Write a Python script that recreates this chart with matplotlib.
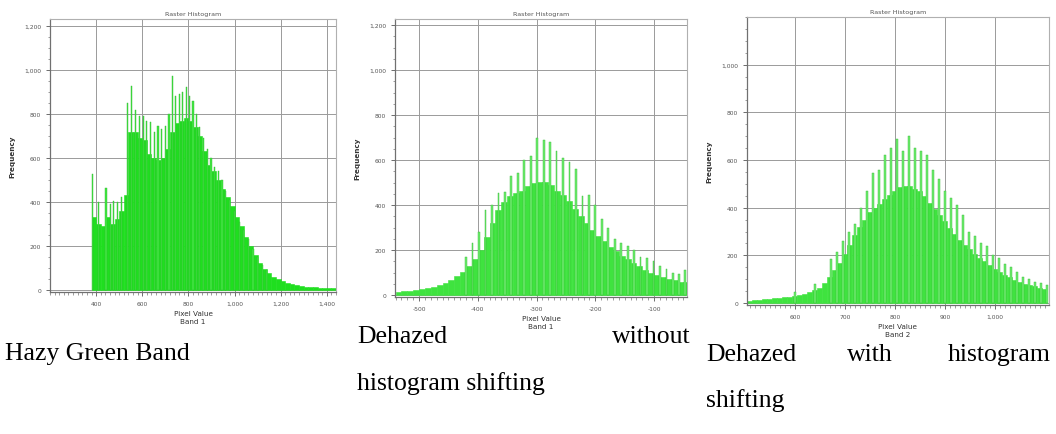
import matplotlib
matplotlib.use("Agg")
import matplotlib.pyplot as plt
from matplotlib.ticker import FuncFormatter, MultipleLocator, FixedLocator
import numpy as np

W, H = 1056, 435

# ---------------- data ----------------
# Panel 1: Hazy green band (base histogram, bins of 20 starting at 380)
hazy_start, hazy_width = 380, 20
hazy_base = [330, 300, 290, 330, 300, 320, 360, 430, 720, 720,
             690, 680, 620, 600, 590, 600, 640, 720, 760, 770,
             780, 770, 740, 700, 630, 570, 540, 500, 460, 420,
             380, 330, 290, 240, 200, 160, 120, 95, 75, 60,
             48, 40, 32, 26, 20, 17, 15, 13, 11, 10,
             9, 8, 7]
hazy_spike_x = [384, 412, 443, 462, 475, 492, 510, 536, 552, 570, 588, 604,
                620, 636, 652, 668, 684, 700, 716, 730, 745, 760, 775, 790,
                805, 820, 835, 850, 866, 882, 898, 915, 930, 946, 962, 980,
                1000, 1020, 1040, 1060, 1080, 1100, 1120, 1140]
hazy_spike_y = [527, 400, 464, 390, 405, 400, 420, 850, 927, 820, 790, 791,
                770, 764, 720, 745, 730, 745, 800, 973, 882, 890, 900, 923,
                880, 860, 800, 740, 690, 640, 600, 560, 540, 500, 450, 410,
                360, 310, 270, 230, 185, 150, 115, 90]

# Panel 2: Dehazed without histogram shifting (bins of 10 starting at -540)
noshift_start, noshift_width = -540, 10
noshift_base = [15, 18, 20, 24, 28, 33, 38, 45, 55, 68,
                85, 105, 130, 160, 200, 260, 320, 380, 415, 440,
                455, 465, 485, 500, 505, 505, 490, 465, 445, 420,
                385, 350, 320, 290, 265, 240, 215, 195, 175, 160,
                145, 128, 112, 100, 88, 80, 72, 66, 60, 58]
noshift_spike_x = [-420, -409, -398, -387, -376, -365, -354, -343, -332, -321,
                   -310, -299, -288, -277, -266, -255, -244, -233, -222, -211,
                   -200, -189, -178, -167, -156, -145, -134, -123, -112, -101,
                   -90, -79, -68, -57, -47]
noshift_spike_y = [170, 230, 280, 380, 400, 455, 460, 530, 545, 600,
                   620, 700, 690, 680, 640, 610, 590, 560, 440, 445,
                   400, 340, 300, 250, 230, 220, 200, 170, 165, 150,
                   130, 115, 100, 95, 110]

# Panel 3: Dehazed with histogram shifting (bins of 10 starting at 504)
shift_start, shift_width = 504, 10
shift_base = [10, 12, 14, 16, 18, 20, 22, 24, 27, 30,
              35, 40, 46, 55, 65, 85, 110, 140, 170, 205,
              245, 285, 320, 350, 380, 400, 415, 435, 455, 470,
              485, 490, 490, 480, 470, 450, 420, 395, 370, 345,
              315, 290, 265, 245, 225, 205, 190, 175, 160, 145,
              130, 118, 108, 98, 90, 82, 76, 70, 65, 60]
shift_spike_x = [600, 640, 672, 684, 696, 708, 720, 732, 744, 756, 768, 780,
                 792, 804, 816, 828, 840, 852, 864, 876, 888, 900, 912, 924,
                 936, 948, 960, 972, 984, 996, 1008, 1020, 1032, 1044, 1056,
                 1068, 1080, 1092, 1104]
shift_spike_y = [45, 80, 185, 215, 260, 300, 330, 400, 470, 545, 560, 620,
                 650, 690, 640, 700, 650, 640, 620, 560, 520, 470, 440, 410,
                 370, 300, 280, 250, 240, 200, 190, 165, 150, 130, 110,
                 100, 90, 85, 75]

hazy_xticks = [400, 600, 800, 1000, 1200, 1400]
noshift_xticks = [-500, -400, -300, -200, -100]
shift_xticks = [600, 700, 800, 900, 1000]
y_ticks_full = [0, 200, 400, 600, 800, 1000, 1200]
y_ticks_shift = [0, 200, 400, 600, 800, 1000]

captions = ["Hazy Green Band", "Dehazed without histogram shifting",
            "Dehazed with histogram shifting"]
band_labels = ["Band 1", "Band 1", "Band 2"]

# ---------------- figure ----------------
fig = plt.figure(figsize=(W / 100, H / 100), dpi=100)
fig.patch.set_facecolor("white")


def px_axes(left, top, right, bottom):
    return fig.add_axes([left / W, 1 - bottom / H, (right - left) / W, (bottom - top) / H])


fmt = FuncFormatter(lambda v, p: "{:,.0f}".format(v))


def draw_panel(ax, start, width, base, sx, sy, spike_w, xlim, ylim, xticks, yticks,
               xminor, base_col, spike_col, band):
    xs = start + width * np.arange(len(base))
    ax.bar(xs, base, width=width, align="edge", color=base_col, edgecolor=base_col,
           linewidth=0.4, zorder=2)
    ax.bar(sx, sy, width=spike_w, color=spike_col, edgecolor="#37b837",
           linewidth=0.3, zorder=3)
    ax.set_xlim(*xlim)
    ax.set_ylim(*ylim)
    ax.xaxis.set_major_locator(FixedLocator(xticks))
    ax.yaxis.set_major_locator(FixedLocator(yticks))
    ax.xaxis.set_minor_locator(MultipleLocator(xminor))
    ax.yaxis.set_minor_locator(MultipleLocator(50))
    ax.xaxis.set_major_formatter(fmt)
    ax.yaxis.set_major_formatter(fmt)
    ax.grid(True, which="major", color="#9a9a9a", linewidth=0.7, zorder=1)
    ax.set_axisbelow(True)
    for s in ["top", "right"]:
        ax.spines[s].set_color("#b0b0b0")
        ax.spines[s].set_linewidth(0.8)
    for s in ["left", "bottom"]:
        ax.spines[s].set_color("#707070")
        ax.spines[s].set_linewidth(0.9)
    ax.tick_params(which="major", labelsize=4.3, colors="#555555", length=3, width=0.6)
    ax.tick_params(which="minor", length=1.8, width=0.5, colors="#777777")
    ax.set_title("Raster Histogram", fontsize=4.6, color="#555555", pad=3)
    ax.set_ylabel("Frequency", fontsize=5.2, fontweight="bold", color="#333333", labelpad=6)
    ax.set_xlabel("Pixel Value\n" + band, fontsize=5.2, color="#333333", labelpad=3,
                  linespacing=1.4)


ax1 = px_axes(50, 20, 336, 293)
draw_panel(ax1, hazy_start, hazy_width, hazy_base, hazy_spike_x, hazy_spike_y, 5,
           (200, 1440), (-10, 1232), hazy_xticks, y_ticks_full, 20,
           "#1fdf1f", "#3fe83f", band_labels[0])

ax2 = px_axes(395, 20, 687, 298)
draw_panel(ax2, noshift_start, noshift_width, noshift_base, noshift_spike_x,
           noshift_spike_y, 3, (-541, -44), (-8, 1227), noshift_xticks,
           y_ticks_full, 10, "#3fe33f", "#6eee6e", band_labels[1])

ax3 = px_axes(747, 18, 1049, 306)
draw_panel(ax3, shift_start, shift_width, shift_base, shift_spike_x, shift_spike_y,
           3.5, (504, 1108), (-8, 1200), shift_xticks, y_ticks_shift, 10,
           "#3fe33f", "#6eee6e", band_labels[2])

# ---------------- captions ----------------
serif = dict(family="Liberation Serif", fontsize=18.5, color="black")


def ftext(x, y, s, ha="left"):
    fig.text(x / W, 1 - y / H, s, ha=ha, va="baseline", **serif)


ftext(5, 360, "Hazy Green Band")
ftext(357, 343, "Dehazed")
ftext(691, 343, "without", ha="right")
ftext(357, 390, "histogram shifting")
ftext(706, 361, "Dehazed")
ftext(870, 361, "with", ha="center")
ftext(1051, 361, "histogram", ha="right")
ftext(706, 407, "shifting")

fig.savefig("out.png", dpi=100, facecolor="white")
